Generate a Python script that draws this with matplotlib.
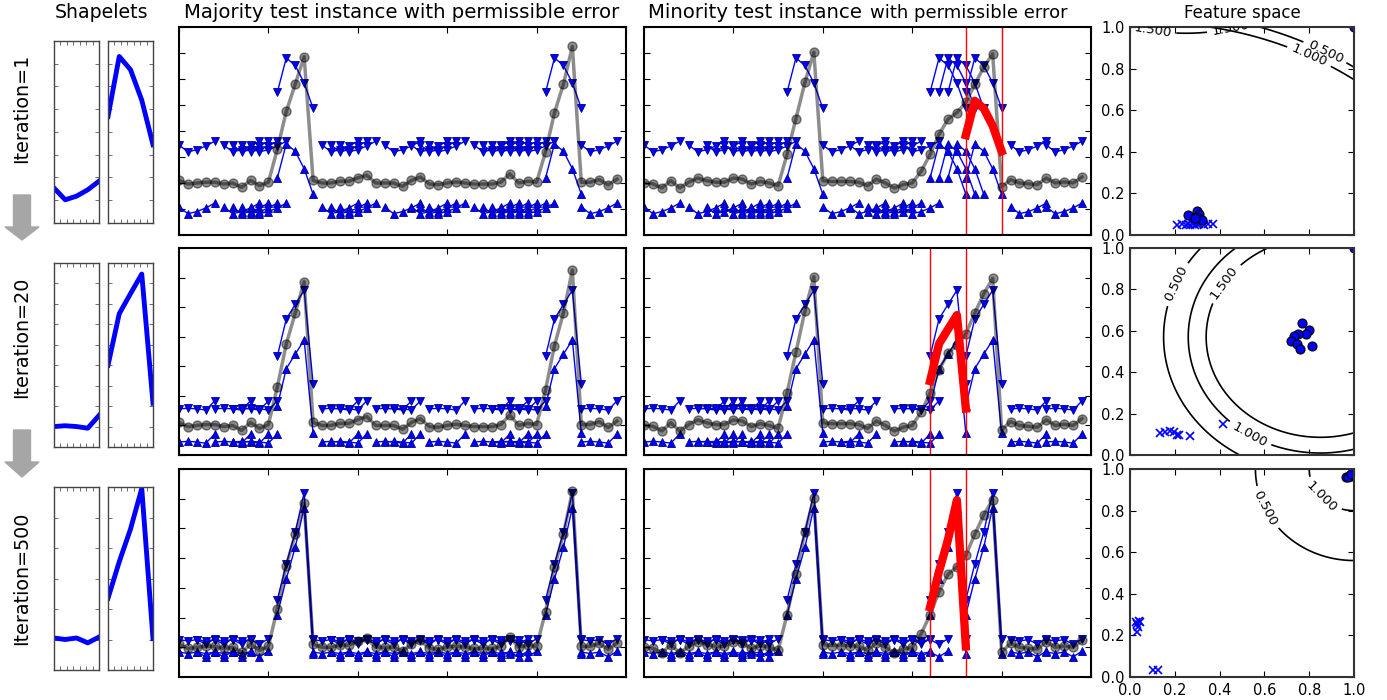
"""Shapelet learning progress: shapelets, matches with permissible error and feature space."""

import matplotlib
matplotlib.use("Agg")
import matplotlib.pyplot as plt
import numpy as np
from matplotlib.patches import FancyArrow

W, H = 1387, 700

# Test instances (baseline-relative values, 50 time steps)
majority = [0.1, -0.04, 0, 0.03, 0.03, -0.04, 0, -0.17, 0.1, -0.1,
            0.03, 1.3, 2.75, 3.8, 4.86, 0.1, 0, 0, 0.07, 0.07,
            0.2, 0.3, 0, 0, 0, -0.13, 0.1, 0.23, -0.04, -0.06,
            0, 0.04, 0, -0.04, -0.04, -0.04, 0.03, 0.35, 0, 0.07,
            0.03, 1.2, 2.7, 3.8, 5.25, 0.03, 0.03, 0.13, -0.07, 0.15]
minority = [0, -0.03, -0.19, 0.09, -0.19, 0.03, 0.19, 0.09, 0.03, 0.03,
            0.19, 0.15, -0.04, 0.06, 0, -0.1, 1.1, 2.48, 3.87, 5.03,
            0.09, 0.06, 0.06, 0.06, 0.03, -0.1, 0.15, 0, -0.19, -0.06,
            0, 0.45, 1.1, 1.87, 2.45, 2.71, 3.1, 3.8, 4.45, 4.97,
            -0.15, 0.13, 0, -0.03, -0.06, 0.19, 0, 0.04, 0, 0.23]

iterations = ["Iteration=1", "Iteration=20", "Iteration=500"]

# Learned shapelets per iteration
shapelet_flat = [[0.27, 0.01, 0.09, 0.23, 0.42],
                 [0.0, 0.02, 0.0, -0.04, 0.27],
                 [0.05, 0.0, 0.05, -0.11, 0.08]]
shapelet_peak = [[1.84, 3.16, 2.87, 2.2, 1.22],
                 [1.5, 2.76, 3.25, 3.73, 0.57],
                 [1.35, 2.55, 3.62, 4.95, 0.03]]
error_flat = [1.19, 0.56, 0.21]
error_peak = [1.65, 0.84, 0.25]

# Start positions where each shapelet matches within the permissible error
maj_flat_starts = [[0, 5, 6, 7, 8, 16, 17, 18, 23, 26, 27, 28, 33, 34, 35, 36, 37, 38, 45],
                   [0, 4, 6, 7, 16, 17, 22, 23, 28, 33, 35, 36, 37, 45],
                   [0, 2, 4, 6, 15, 17, 19, 21, 23, 25, 27, 29, 31, 33, 35, 36, 45]]
maj_peak_starts = [[11, 41], [11, 41], [11, 41]]
min_flat_starts = [[0, 5, 7, 9, 10, 11, 12, 13, 20, 23, 25, 26, 27, 29, 41, 45],
                   [0, 5, 6, 7, 9, 10, 11, 12, 20, 22, 28, 29, 41, 45],
                   [0, 2, 4, 6, 8, 10, 11, 20, 22, 24, 26, 28, 30, 41, 45]]
min_peak_starts = [[16, 32, 33, 34, 36], [16, 32, 36], [16, 32, 36]]
best_match = [36, 32, 32]

series_ylim = [(-2, 6), (-1, 6), (-1, 6)]
shapelet_ylim = [(-0.5, 3.5, 0.5), (-0.5, 4.0, 0.5), (-1, 5, 1)]

# Feature space (distances to the two shapelets)
dots_x = [[0.26, 0.30, 0.31, 0.30, 0.32, 0.29, 1.0],
          [0.77, 0.80, 0.786, 0.75, 0.73, 0.72, 0.744, 0.76, 0.814, 1.0],
          [0.964, 0.98, 0.99, 0.975, 0.985]]
dots_y = [[0.096, 0.117, 0.10, 0.085, 0.072, 0.08, 1.0],
          [0.637, 0.605, 0.584, 0.584, 0.576, 0.549, 0.536, 0.512, 0.528, 1.0],
          [0.96, 0.97, 0.967, 0.962, 0.975]]
cross_x = [[0.21, 0.23, 0.25, 0.26, 0.27, 0.28, 0.29, 0.30, 0.31, 0.33, 0.35, 0.37],
           [0.134, 0.156, 0.179, 0.196, 0.208, 0.22, 0.27, 0.417],
           [0.03, 0.033, 0.042, 0.027, 0.034, 0.045, 0.104, 0.127]]
cross_y = [[0.05, 0.053, 0.05, 0.055, 0.05, 0.053, 0.05, 0.052, 0.055, 0.05, 0.052, 0.055],
           [0.107, 0.112, 0.115, 0.112, 0.099, 0.099, 0.093, 0.149],
           [0.215, 0.255, 0.27, 0.263, 0.24, 0.263, 0.035, 0.035]]

# Decision contours: centre, vertical squash, radius of each level, label spots
contour_center = [(0.1, -0.6), (0.85, 0.57), (1.0, 1.0)]
contour_squash = [1.0, 0.95, 1.0]
contour_radius = [[1.67, 1.62], [0.70, 0.59, 0.51], [0.44, 0.20]]
contour_level = [[0.5, 1.0], [0.5, 1.0, 1.5], [0.5, 1.0]]
contour_label_at = [[(0.88, 0.9), (0.8, 0.86)],
                    [(0.2, 0.83), (0.53, 0.09), (0.4, 0.85)],
                    [(0.62, 0.82), (0.86, 0.87)]]
# extra 1.5 arc along the top edge of the first feature plot
arc_center, arc_radius, arc_level = (0.25, 1.85), 0.88, 1.5
arc_label_at = [(0.1, 0.98), (0.45, 0.99)]

row_y = [(27, 235), (248, 455), (469, 677)]
shp_y = [(41, 223), (263, 447), (487, 670)]
label_y = [108, 337, 578]


def box(x0, x1, y0, y1):
    return [x0 / W, 1 - y1 / H, (x1 - x0) / W, (y1 - y0) / H]


def draw_instance(ax, series, r, flat_starts, peak_starts, match=None):
    """Draw one test instance with the matched shapelets +/- the error."""
    for starts, shape, err in ((flat_starts, shapelet_flat[r], error_flat[r]),
                               (peak_starts, shapelet_peak[r], error_peak[r])):
        shape = np.asarray(shape)
        for s in starts:
            xs = np.arange(s, s + len(shape))
            ax.plot(xs, shape + err, color="b", lw=1, marker="v", ms=5.5,
                    mfc="b", mec="#00008b", mew=0.6)
            ax.plot(xs, shape - err, color="b", lw=1, marker="^", ms=5.5,
                    mfc="b", mec="#00008b", mew=0.6)
    ax.plot(np.arange(len(series)), series, color="k", alpha=0.45, lw=2.5,
            marker="o", ms=6.5)
    if match is not None:
        xs = np.arange(match, match + len(shapelet_peak[r]))
        ax.axvline(xs[0], color="r", lw=1)
        ax.axvline(xs[-1], color="r", lw=1)
        ax.plot(xs, shapelet_peak[r], color="r", lw=6)
    ax.set_xlim(0, 50)
    ax.set_ylim(*series_ylim[r])
    ax.set_xticks(np.arange(0, 51, 10))
    ax.set_yticks(np.arange(series_ylim[r][0], series_ylim[r][1] + 1, 1))
    ax.tick_params(direction="in", top=True, right=True, length=4,
                   labelleft=False, labelbottom=False)
    for sp in ax.spines.values():
        sp.set_linewidth(1.5)


fig = plt.figure(figsize=(W / 100, H / 100), dpi=100)

for r in range(3):
    y0, y1 = row_y[r]

    # Shapelets
    lo, hi, step = shapelet_ylim[r]
    for (x0, x1), shape in zip([(54, 99), (108, 153)],
                               [shapelet_flat[r], shapelet_peak[r]]):
        ax = fig.add_axes(box(x0, x1, *shp_y[r]))
        ax.plot(np.arange(len(shape)), shape, color="b", lw=3.5)
        ax.set_xlim(0, 4)
        ax.set_ylim(lo, hi)
        ax.set_xticks(np.linspace(0, 4, 8))
        ax.set_yticks(np.arange(lo, hi + step / 2, step))
        ax.tick_params(direction="in", top=True, right=True, length=3,
                       width=0.6, color="#555555",
                       labelleft=False, labelbottom=False)
        for sp in ax.spines.values():
            sp.set_color("#444444")
            sp.set_linewidth(1)

    # Majority / minority instances
    draw_instance(fig.add_axes(box(179, 626, y0, y1)), majority, r,
                  maj_flat_starts[r], maj_peak_starts[r])
    draw_instance(fig.add_axes(box(644, 1091, y0, y1)), minority, r,
                  min_flat_starts[r], min_peak_starts[r], best_match[r])

    # Feature space
    ax = fig.add_axes(box(1130, 1354, y0, y1))
    grid = np.linspace(0, 1, 400)
    X, Y = np.meshgrid(grid, grid)
    cx, cy = contour_center[r]
    D = np.sqrt((X - cx) ** 2 + ((Y - cy) / contour_squash[r]) ** 2)
    radii = sorted(contour_radius[r])
    fmt = {rad: f"{lvl:.3f}" for rad, lvl in zip(contour_radius[r], contour_level[r])}
    cs = ax.contour(X, Y, D, levels=radii, colors="k", linewidths=1.2)
    ax.clabel(cs, fmt=fmt, manual=contour_label_at[r], inline=True, fontsize=9.5)
    if r == 0:
        D2 = np.sqrt((X - arc_center[0]) ** 2 + (Y - arc_center[1]) ** 2)
        cs2 = ax.contour(X, Y, D2, levels=[arc_radius], colors="k", linewidths=1.2)
        ax.clabel(cs2, fmt={arc_radius: f"{arc_level:.3f}"}, manual=arc_label_at,
                  inline=True, fontsize=9.5)
    ax.plot(cross_x[r], cross_y[r], "x", color="b", ms=6, mew=1.2)
    ax.plot(dots_x[r], dots_y[r], "o", mfc="b", mec="k", ms=6.5, mew=0.8)
    ax.set_xlim(0, 1)
    ax.set_ylim(0, 1)
    ax.set_xticks(np.arange(0, 1.01, 0.2))
    ax.set_yticks(np.arange(0, 1.01, 0.2))
    ax.tick_params(direction="in", top=True, right=True, length=4, pad=4,
                   labelsize=10.5, labelbottom=(r == 2))
    for sp in ax.spines.values():
        sp.set_color("#333333")
        sp.set_linewidth(1.5)

    fig.text(22 / W, 1 - label_y[r] / H, iterations[r], rotation=90,
             ha="center", va="center", fontsize=13.8)

# Column titles
fig.text(102 / W, 1 - 18 / H, "Shapelets", ha="center", va="baseline", fontsize=13.6)
fig.text(402 / W, 1 - 18 / H, "Majority test instance with permissible error",
         ha="center", va="baseline", fontsize=14.2)
fig.text(648 / W, 1 - 18 / H, "Minority test instance", ha="left", va="baseline",
         fontsize=14.2)
fig.text(870 / W, 1 - 18 / H, "with permissible error", ha="left", va="baseline",
         fontsize=13)
fig.text(1242 / W, 1 - 18 / H, "Feature space", ha="center", va="baseline", fontsize=12)

# Gray arrows between the iterations
for top, tip, head in [(195, 240, 13), (430, 477, 15)]:
    fig.add_artist(FancyArrow(22 / W, 1 - top / H, 0, -(tip - top) / H,
                              width=17 / W, head_width=34 / W, head_length=head / H,
                              length_includes_head=True, color="#a6a6a6",
                              transform=fig.transFigure))

fig.savefig("out.png", dpi=100)
